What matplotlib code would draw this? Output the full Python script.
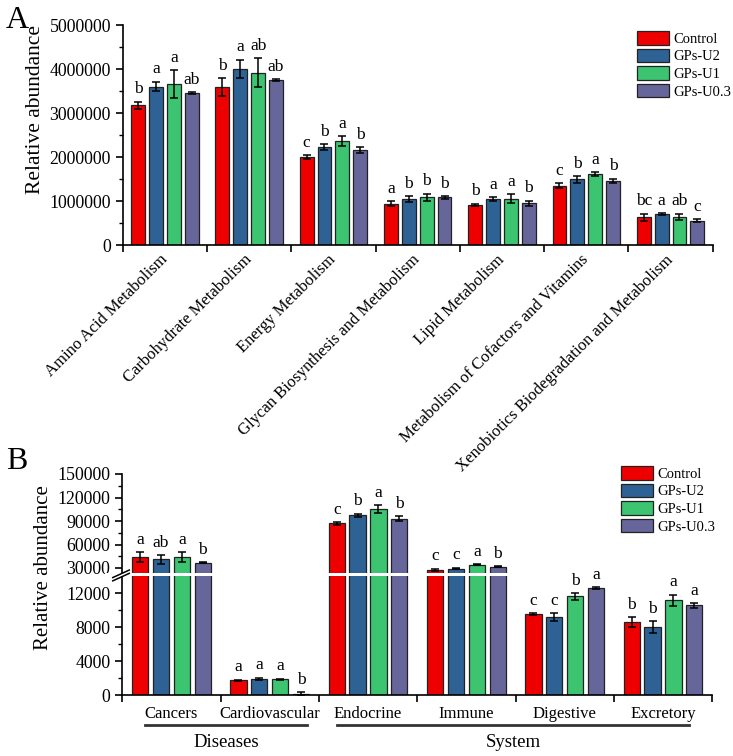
import numpy as np
import matplotlib
matplotlib.use("Agg")
import matplotlib.pyplot as plt
from matplotlib.transforms import blended_transform_factory

plt.rcParams['font.family'] = ['Liberation Serif', 'DejaVu Serif']

series = ["Control", "GPs-U2", "GPs-U1", "GPs-U0.3"]
colors = ["#EE0000", "#2E6294", "#3CC470", "#67669A"]

# ---------------- Panel A data ----------------
cats_a = ["Amino Acid Metabolism", "Carbohydrate Metabolism", "Energy Metabolism",
          "Glycan Biosynthesis and Metabolism", "Lipid Metabolism",
          "Metabolism of Cofactors and Vitamins", "Xenobiotics Biodegradation and Metabolism"]
control_a = [3175000, 3590000, 2000000, 940000, 910000, 1350000, 630000]
u2_a      = [3600000, 4000000, 2230000, 1040000, 1050000, 1490000, 700000]
u1_a      = [3660000, 3920000, 2360000, 1080000, 1050000, 1610000, 645000]
u03_a     = [3455000, 3750000, 2160000, 1080000, 950000, 1460000, 550000]
err_control_a = [80000, 200000, 40000, 50000, 30000, 50000, 80000]
err_u2_a      = [110000, 210000, 60000, 70000, 40000, 70000, 20000]
err_u1_a      = [310000, 320000, 120000, 90000, 100000, 50000, 70000]
err_u03_a     = [20000, 20000, 60000, 30000, 60000, 50000, 30000]
let_control_a = ["b", "b", "c", "a", "b", "c", "bc"]
let_u2_a      = ["a", "a", "b", "b", "a", "b", "a"]
let_u1_a      = ["a", "ab", "a", "b", "a", "a", "ab"]
let_u03_a     = ["ab", "ab", "b", "b", "b", "b", "c"]

# ---------------- Panel B data ----------------
cats_b = ["Cancers", "Cardiovascular", "Endocrine", "Immune", "Digestive", "Excretory"]
control_b = [44000, 1730, 87000, 28000, 9490, 8550]
u2_b      = [41100, 1880, 97300, 29300, 9200, 8000]
u1_b      = [44000, 1850, 105000, 34000, 11600, 11120]
u03_b     = [36800, 160, 93000, 31400, 12600, 10550]
err_control_b = [6100, 60, 1700, 1300, 120, 590]
err_u2_b      = [5500, 150, 2100, 1000, 450, 650]
err_u1_b      = [6100, 60, 5100, 500, 390, 690]
err_u03_b     = [1000, 150, 3400, 600, 100, 270]
let_control_b = ["a", "a", "c", "c", "c", "b"]
let_u2_b      = ["ab", "a", "b", "c", "c", "b"]
let_u1_b      = ["a", "a", "a", "a", "b", "a"]
let_u03_b     = ["b", "b", "b", "b", "a", "a"]
group_names = ["Diseases", "System"]

W, H = 733, 756
fig = plt.figure(figsize=(W / 100, H / 100), dpi=100)

def rect(l, r, b, t):
    return [l / W, 1 - b / H, (r - l) / W, (b - t) / H]

offsets = [-0.318, -0.106, 0.106, 0.318]
bw = 0.165

def draw_bars(ax, vals, errs, lets):
    n = len(vals[0])
    x = np.arange(n) + 0.5
    for i in range(4):
        ax.bar(x + offsets[i], vals[i], width=bw, color=colors[i], edgecolor="#222222",
               linewidth=0.9, label=series[i], zorder=2)
        ax.errorbar(x + offsets[i], vals[i], yerr=errs[i], fmt="none", ecolor="black",
                    elinewidth=1.1, capsize=3, capthick=1.1, zorder=4)
        for j in range(n):
            ax.annotate(lets[i][j], (x[j] + offsets[i], vals[i][j] + errs[i][j]),
                        xytext=(0, 6), textcoords="offset points", ha="center",
                        va="baseline", fontsize=12.5, zorder=6)

def style_axes(ax, n):
    for s in ["top", "right"]:
        ax.spines[s].set_visible(False)
    for s in ["left", "bottom"]:
        ax.spines[s].set_linewidth(1.2)
    ax.set_xlim(0, n)
    ax.set_xticks(np.arange(n) + 0.5)
    ax.set_xticks(np.arange(n + 1), minor=True)
    ax.tick_params(axis="x", which="major", length=0, labelsize=12)
    ax.tick_params(axis="x", which="minor", length=5, width=1.2, direction="out")
    ax.tick_params(axis="y", which="major", length=5, width=1.2, direction="out", labelsize=12.8)
    ax.tick_params(axis="y", which="minor", length=3, width=1.0, direction="out")

# ---------------- Panel A ----------------
axA = fig.add_axes(rect(122.7, 712.7, 245, 25))
draw_bars(axA, [control_a, u2_a, u1_a, u03_a], [err_control_a, err_u2_a, err_u1_a, err_u03_a],
          [let_control_a, let_u2_a, let_u1_a, let_u03_a])
style_axes(axA, len(cats_a))
axA.set_ylim(0, 5000000)
axA.set_yticks(np.arange(0, 5000001, 1000000))
axA.set_yticks(np.arange(500000, 5000000, 1000000), minor=True)
axA.set_yticklabels([str(int(v)) for v in np.arange(0, 5000001, 1000000)])
axA.set_xticklabels(cats_a, rotation=45, ha="right", va="center", rotation_mode="anchor")
axA.tick_params(axis="x", which="major", pad=9)
axA.set_ylabel("Relative abundance", fontsize=15.5)
axA.yaxis.set_label_coords(-0.1317, 0.614)
axA.legend(loc="upper left", bbox_to_anchor=(636.7 / W, 1 - 31 / H), bbox_transform=fig.transFigure,
           frameon=False, fontsize=10.5, handlelength=2.2, handleheight=1.05,
           labelspacing=0.2, handletextpad=0.3, borderpad=0, borderaxespad=0)

# ---------------- Panel B ----------------
lo_top, gap_top = 14000, 24000
px_lo, px_gap = 119.0, 122.3
slope_hi = 94.0 / 120000

def fwd(y):
    y = np.asarray(y, dtype=float)
    return np.where(y <= lo_top, y * px_lo / lo_top,
                    np.where(y < gap_top, px_lo + (y - lo_top) * (px_gap - px_lo) / (gap_top - lo_top),
                             px_gap + (y - gap_top) * slope_hi))

def inv(p):
    p = np.asarray(p, dtype=float)
    return np.where(p <= px_lo, p * lo_top / px_lo,
                    np.where(p < px_gap, lo_top + (p - px_lo) * (gap_top - lo_top) / (px_gap - px_lo),
                             gap_top + (p - px_gap) / slope_hi))

axB = fig.add_axes(rect(122.2, 712.2, 695, 474))
axB.set_yscale("function", functions=(fwd, inv))
draw_bars(axB, [control_b, u2_b, u1_b, u03_b], [err_control_b, err_u2_b, err_u1_b, err_u03_b],
          [let_control_b, let_u2_b, let_u1_b, let_u03_b])
style_axes(axB, len(cats_b))
axB.set_ylim(0, 150000)
majB = [0, 4000, 8000, 12000, 30000, 60000, 90000, 120000, 150000]
axB.set_yticks(majB)
axB.set_yticklabels([str(v) for v in majB])
axB.set_yticks([2000, 6000, 10000, 45000, 75000, 105000, 135000], minor=True)
axB.set_xticklabels(cats_b)
axB.tick_params(axis="x", which="major", pad=8)
axB.set_ylabel("Relative abundance", fontsize=15)
axB.yaxis.set_label_coords(-0.1168, 0.578)

# break band
trB = blended_transform_factory(axB.transAxes, axB.transData)
band = plt.Rectangle((-0.03, lo_top), 1.03, gap_top - lo_top, transform=trB,
                     facecolor="white", edgecolor="none", zorder=5, clip_on=False)
axB.add_artist(band)
hB = 221.0
yb1 = px_lo / hB
yb2 = px_gap / hB
for yb in (yb1, yb2):
    axB.plot([-0.016, 0.012], [yb - 0.022, yb + 0.012], transform=axB.transAxes,
             color="black", lw=1.1, clip_on=False, zorder=7)

axB.legend(loc="upper left", bbox_to_anchor=(621 / W, 1 - 466 / H), bbox_transform=fig.transFigure,
           frameon=False, fontsize=10.5, handlelength=2.2, handleheight=1.05,
           labelspacing=0.2, handletextpad=0.3, borderpad=0, borderaxespad=0)

# group underlines
trG = blended_transform_factory(axB.transData, fig.transFigure)
y_line = 1 - 725.3 / H
y_txt = 1 - 742.7 / H
group_spans = [(0.232, 1.883), (2.188, 5.763)]
for (x0, x1), name in zip(group_spans, group_names):
    axB.plot([x0, x1], [y_line, y_line], transform=trG, color="#333333", lw=2, clip_on=False)
    axB.text((x0 + x1) / 2, y_txt, name, transform=trG, ha="center", va="center", fontsize=13.5)

fig.text(6 / W, 1 - 28 / H, "A", fontsize=23, ha="left", va="baseline")
fig.text(6 / W, 1 - 469 / H, "B", fontsize=23, ha="left", va="baseline")

fig.savefig("out.png", dpi=100)
